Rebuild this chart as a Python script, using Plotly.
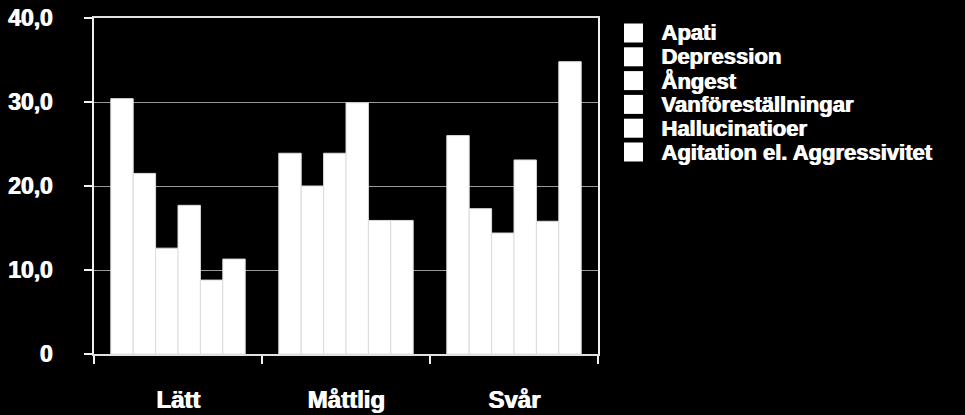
import plotly.graph_objects as go

categories = ["Lätt", "Måttlig", "Svår"]
series_names = ["Apati", "Depression", "Ångest", "Vanföreställningar",
                "Hallucinatioer", "Agitation el. Aggressivitet"]
apati = [30.4, 23.9, 26.0]
depression = [21.5, 20.0, 17.3]
angest = [12.6, 23.9, 14.4]
vanforestallningar = [17.7, 29.9, 23.1]
hallucinatioer = [8.8, 15.9, 15.8]
agitation = [11.3, 15.9, 34.8]
series_values = [apati, depression, angest, vanforestallningar, hallucinatioer, agitation]

y_tickvals = [0, 10, 20, 30, 40]
y_ticktext = ["0", "10,0", "20,0", "30,0", "40,0"]

FONT = "Liberation Sans, Arial, sans-serif"
SHADOW = "1px 0px 0px white"

fig = go.Figure()
for name, vals in zip(series_names, series_values):
    fig.add_trace(go.Bar(
        x=categories, y=vals, name=name,
        marker=dict(color="white", line=dict(color="#dcdcdc", width=1)),
        showlegend=False,
    ))

# plot area geometry (pixels) used for custom legend
L, R, T, B = 94, 598, 18, 354
W, H = R - L, B - T

shapes = []
annotations = []
for i, name in enumerate(series_names):
    cy = 33 + 23.8 * i
    x0, x1 = 624, 643
    y0, y1 = cy - 9.5, cy + 9.5
    shapes.append(dict(
        type="rect", xref="paper", yref="paper",
        x0=(x0 - L) / W, x1=(x1 - L) / W,
        y0=(B - y1) / H, y1=(B - y0) / H,
        fillcolor="white", line=dict(width=0),
    ))
    annotations.append(dict(
        text="<b>" + name + "</b>", xref="paper", yref="paper",
        x=(659 - L) / W, y=(B - cy) / H, xanchor="left", yanchor="middle",
        showarrow=False,
        font=dict(family=FONT, size=22, color="white", shadow=SHADOW),
    ))

fig.update_layout(
    width=965, height=415,
    margin=dict(l=L, r=965 - R, t=T, b=415 - B, pad=0),
    paper_bgcolor="black", plot_bgcolor="black",
    barmode="group", bargap=0.2, bargroupgap=0,
    showlegend=False,
    shapes=shapes, annotations=annotations,
    font=dict(family=FONT, color="white"),
)
fig.update_yaxes(
    range=[0, 40], tickvals=y_tickvals, ticktext=y_ticktext,
    tickfont=dict(family=FONT, size=23, color="white", weight="bold", shadow=SHADOW),
    showgrid=True, gridcolor="#9a9a9a", gridwidth=1,
    showline=True, linecolor="#f0f0f0", linewidth=2, mirror=True,
    ticks="outside", ticklen=8, tickwidth=2, tickcolor="#f0f0f0",
    ticklabelstandoff=27, zeroline=False, automargin=False,
)
fig.update_xaxes(
    tickfont=dict(family=FONT, size=24, color="white", weight="bold", shadow=SHADOW),
    showline=True, linecolor="#e0e0e0", linewidth=2, mirror=True,
    ticks="outside", ticklen=8, tickwidth=2, tickcolor="#f0f0f0",
    tickson="boundaries", ticklabelstandoff=23, automargin=False,
)

fig.write_html("out.html")
